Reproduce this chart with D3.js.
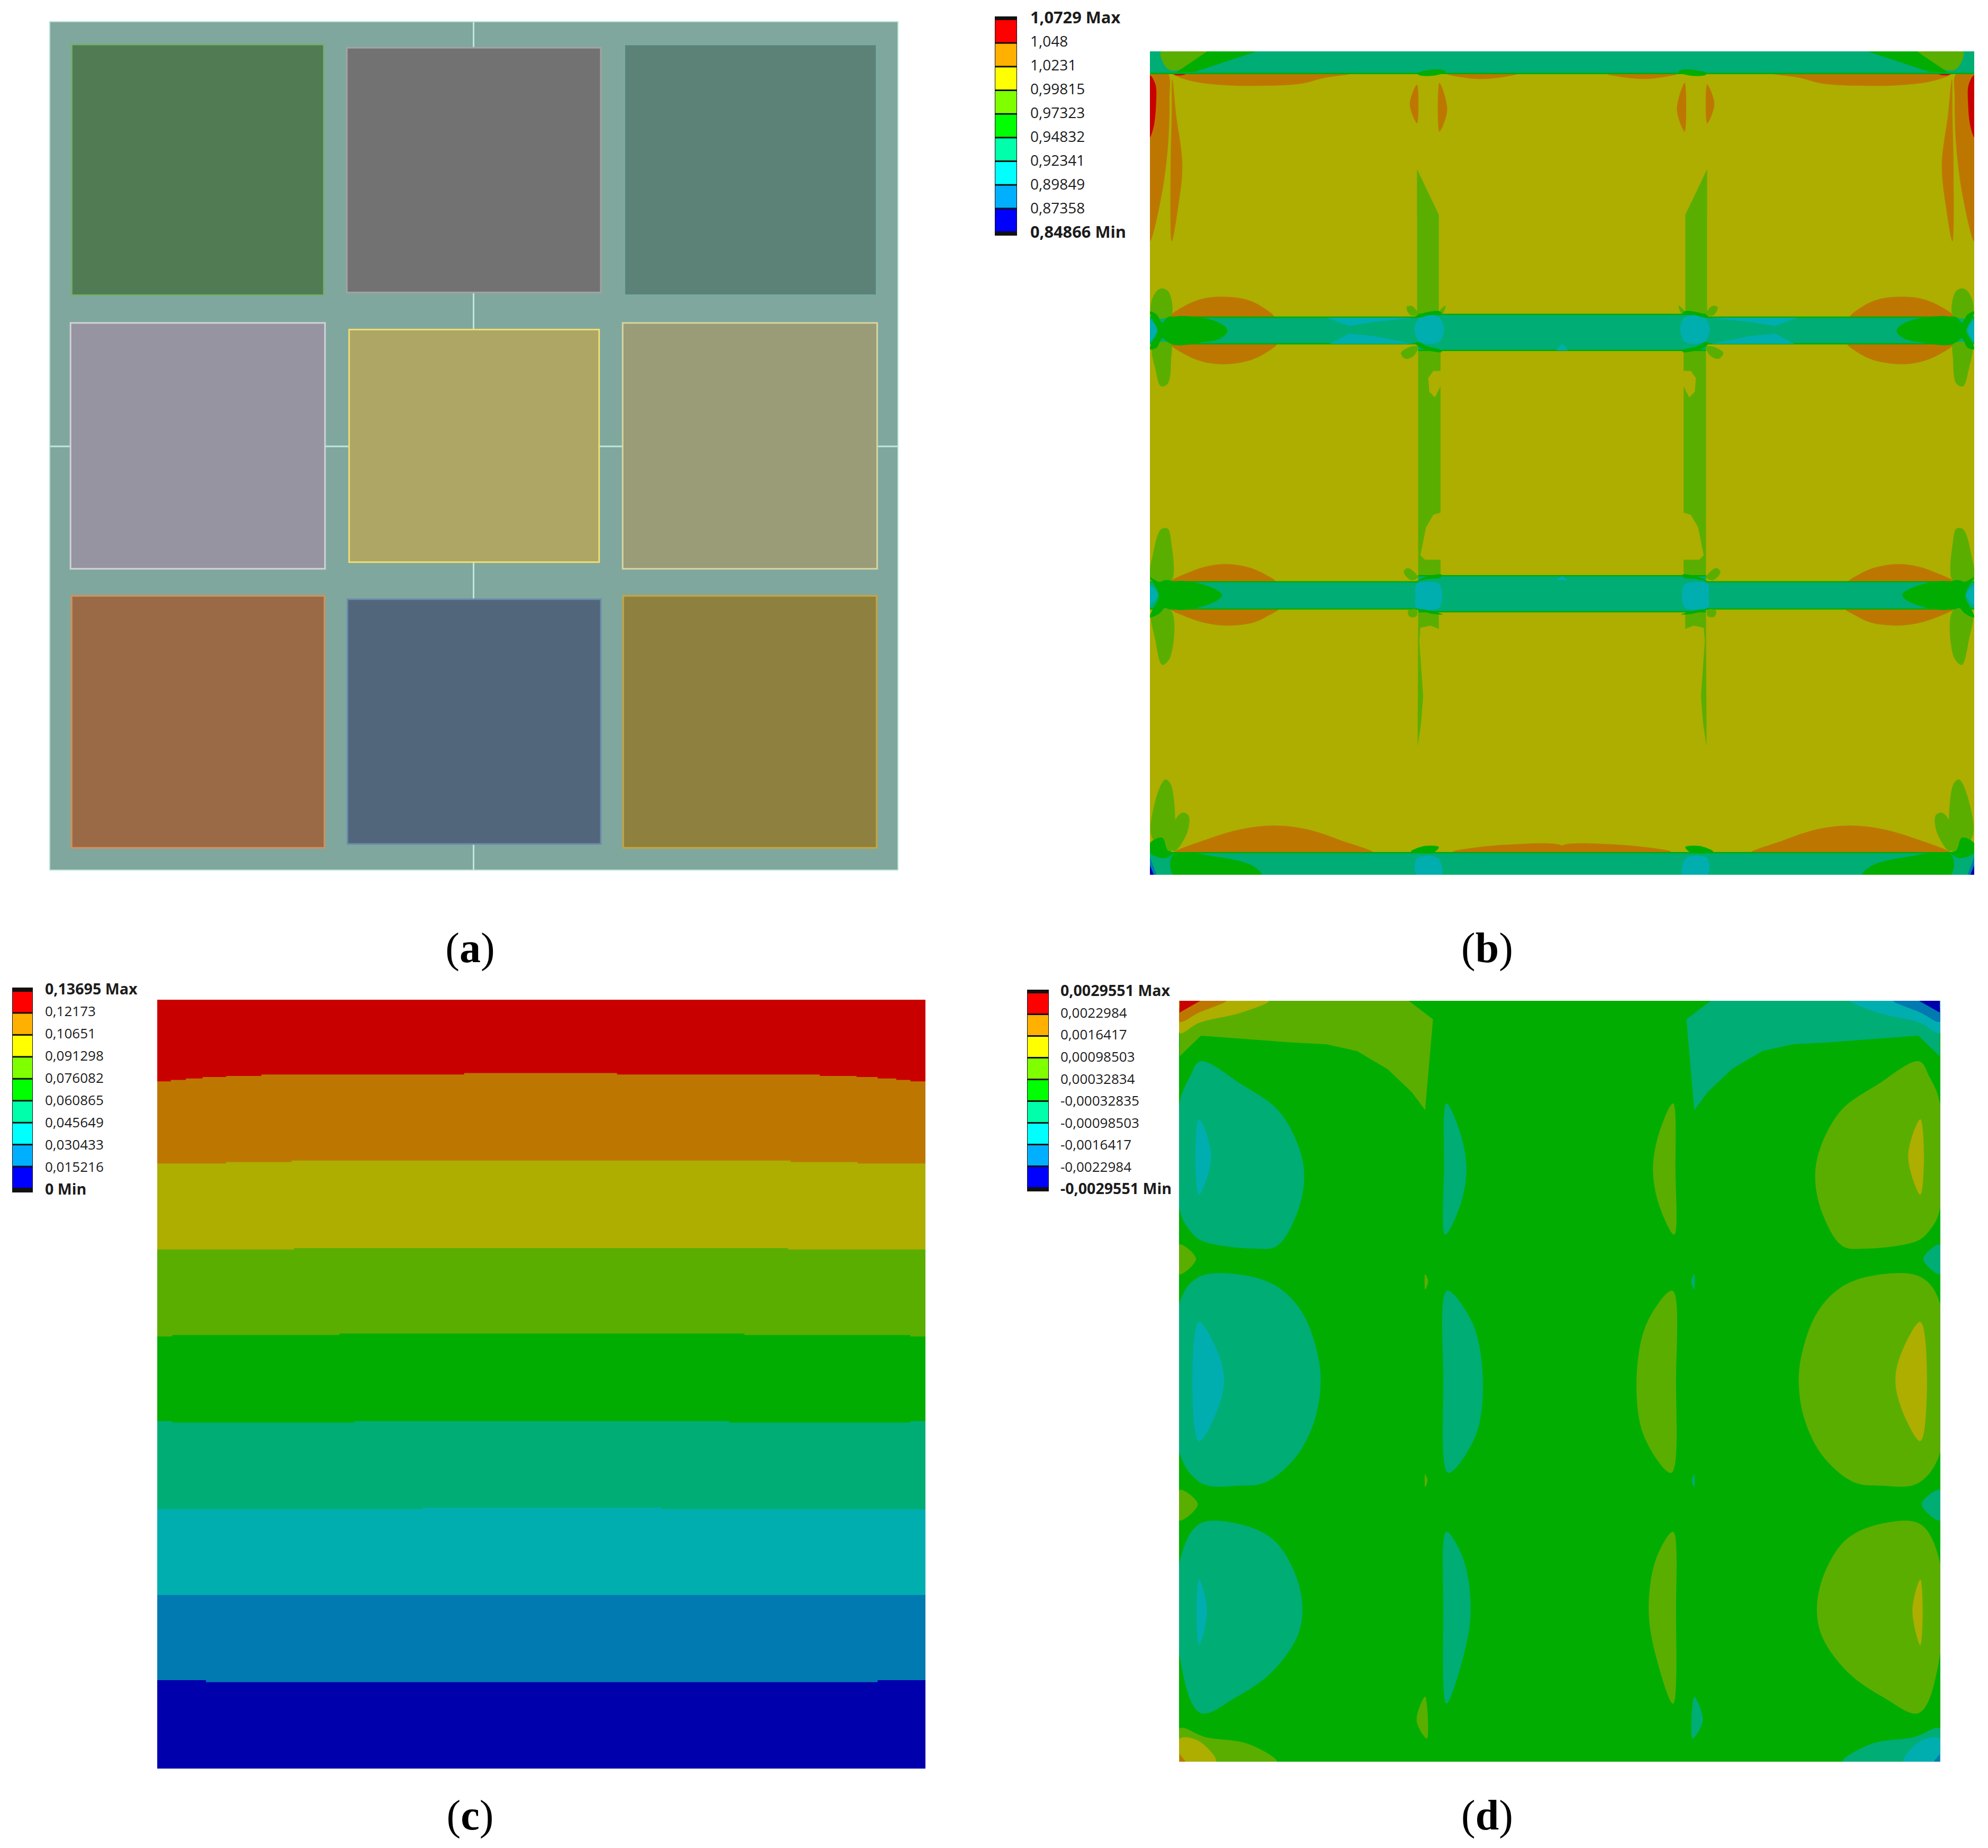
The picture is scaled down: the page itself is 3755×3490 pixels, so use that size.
<!DOCTYPE html>
<html><head><meta charset="utf-8">
<script src="https://d3js.org/d3.v7.min.js"></script>
<style>html,body{margin:0;background:#fff}svg{display:block}text{font-family:"Open Sans",sans-serif;fill:#1c1c1c}.cap,.cap tspan{font-family:"Liberation Serif",serif;fill:#000}</style>
</head><body><script>
// ---------- palette / legends ----------
const legendHues=["#ff0000","#ffb000","#ffff00","#80ff00","#00ff00","#00ffaa","#00ffff","#00b0ff","#0000ff"];
const labelsB=["1,0729 Max","1,048","1,0231","0,99815","0,97323","0,94832","0,92341","0,89849","0,87358","0,84866 Min"];
const labelsC=["0,13695 Max","0,12173","0,10651","0,091298","0,076082","0,060865","0,045649","0,030433","0,015216","0 Min"];
const labelsD=["0,0029551 Max","0,0022984","0,0016417","0,00098503","0,00032834","-0,00032835","-0,00098503","-0,0016417","-0,0022984","-0,0029551 Min"];
const shaded={red:"#c90000",orange:"#bd7700",olive:"#adae00",lime:"#5aae00",green:"#00ad00",teal:"#00ad75",cyan:"#00aeb0",azure:"#007ab0",blue:"#0000ad"};
const captions=["a","b","c","d"];

// ---------- panel (a): plate layout, read in plate units ----------
const plateColors=["#517c53","#727272","#5c8278","#9594a0","#aea664","#9a9b77","#9a6a47","#51667b","#8e803f"];
const plateEdges=["#76b070","#a3a3a3","#78aca2","#d2d2da","#efdc72","#d6d6a2","#d88f58","#6a8cac","#c9a63a"];
const plateX0=[71,562,1057,69,566,1054,71,563,1055];
const plateX1=[521,1015,1507,523,1012,1508,522,1015,1507];
const plateY0=[61,67,61,564,576,564,1057,1063,1057];
const plateY1=[514,509,514,1008,996,1008,1512,1505,1512];
const seamsV=[[20,67],[509,576],[996,1063],[1505,1552]];
const seamsH=[[32,69],[523,566],[1012,1054],[1508,1545]];

// ---------- panel (b): contour regions, left half, mirrored on draw ----------
const bLime=[
 [[546,248],[585,330],[585,512],[546,516]],
 [[548,575],[588,575],[588,612],[575,612],[566,625],[568,650],[578,660],[588,640],[588,868],[575,872],[562,895],[552,945],[560,953],[588,953],[588,984],[548,987]],
 [[548,1047],[585,1047],[585,1078],[570,1072],[552,1076],[550,1100],[557,1200],[553,1250],[547,1290]],
];
const bLimeLobes=[
 [[88,35],[172,35],[122,68],[102,68],[90,52]],
 [[73,515],[70,490],[80,468],[90,463],[102,470],[106,512]],
 [[73,565],[78,610],[88,640],[100,635],[106,590],[105,562]],
 [[70,992],[74,940],[88,898],[100,897],[106,920],[106,992]],
 [[72,1045],[78,1100],[90,1143],[104,1130],[106,1045]],
 [[72,1455],[76,1395],[95,1350],[106,1360],[106,1480]],
 [[106,1472],[110,1430],[125,1410],[137,1415],[135,1445],[112,1480]],
 [[527,497],[537,495],[548,510],[535,512]],
 [[585,506],[597,494],[592,508]],
 [[548,568],[530,570],[517,580],[525,590],[540,585]],
 [[522,975],[530,968],[548,985],[535,990]],
 [[530,1045],[545,1043],[545,1055],[533,1056]],
];
const bOrange=[
 [[68,70],[100,75],[103,120],[100,210],[88,300],[68,378]],
 [[108,85],[115,150],[126,240],[118,320],[107,378],[105,250],[107,150]],
 [[108,75],[140,88],[200,96],[280,97],[340,93],[380,83],[430,75]],
 [[105,514],[135,492],[165,481],[200,478],[240,483],[270,497],[290,515]],
 [[105,563],[130,582],[165,596],[205,600],[250,592],[278,578],[295,563]],
 [[105,993],[140,975],[170,965],[205,961],[245,967],[275,980],[293,993]],
 [[105,1042],[130,1055],[170,1068],[210,1072],[255,1066],[280,1054],[298,1042]],
 [[110,1484],[170,1458],[230,1440],[290,1433],[350,1440],[410,1460],[470,1484]],
 [[546,95],[533,130],[546,165]],
 [[586,92],[600,140],[586,180]],
 [[610,1480],[700,1468],[806,1470],[806,1480]],
 [[600,76],[660,85],[725,76]],
];
const bRed=[[[68,78],[78,95],[79,130],[75,170],[68,190]],[[110,73],[135,73],[130,77],[112,77]]];
const bBars=[[68,806,35,75],[68,548,515,563],[548,806,510,575],[68,548,993,1042],[548,806,982,1047],[68,806,1482,1522]];
const bCyan=[
 [[552,515],[585,515],[594,538],[585,560],[552,560],[541,538]],
 [[545,997],[585,997],[591,1017],[585,1040],[545,1040],[543,1017]],
 [[546,1492],[583,1492],[590,1522],[545,1522]],
 [[68,520],[80,538],[68,558]],
 [[68,1000],[82,1017],[68,1035]],
];
const bCyanWedges=[
 [[385,516],[424,531],[468,524],[540,516]],
 [[390,563],[424,545],[468,549],[540,563]],
 [[795,575],[806,562],[806,575]],
 [[795,990],[806,982],[806,990]],
];
const bGreen=[
 [[68,505],[80,510],[90,525],[100,515],[108,515],[108,563],[100,560],[90,553],[80,570],[68,573],[72,560],[82,540],[72,518]],
 [[105,518],[170,518],[200,530],[207,540],[195,553],[165,560],[105,562]],
 [[68,985],[85,993],[95,990],[108,993],[108,1042],[95,1040],[85,1050],[68,1057],[72,1045],[84,1018],[72,992]],
 [[108,995],[170,1000],[197,1017],[170,1035],[108,1040]],
 [[68,1465],[90,1455],[100,1478],[110,1482],[95,1492],[68,1482]],
 [[110,1485],[190,1490],[250,1505],[268,1522],[110,1522]],
 [[543,514],[560,507],[585,504],[590,508],[570,511],[548,516]],
 [[543,562],[555,572],[590,578],[588,574],[565,568],[548,560]],
 [[545,992],[565,983],[590,980],[588,985],[565,988]],
 [[543,1042],[570,1050],[592,1052],[570,1045]],
 [[546,75],[560,70],[590,68],[597,72],[575,79],[550,78]],
 [[535,1480],[560,1470],[585,1472],[575,1482],[540,1482]],
];
const bGreenTop=[[[115,73],[148,72],[208,52],[262,34],[172,34]]];
const bCorner=[[[68,1490],[80,1522],[68,1522]]];
const bCornerBlue=[[[68,1505],[75,1522],[68,1522]]];

// ---------- panel (c): stepped isolines ----------
const isoC=[
 [[18,-35],[1545,-35]],
 [[18,133],[45,130],[75,127],[108,124],[155,122],[225,119],[628,116],[932,119],[1335,122],[1408,124],[1450,127],[1487,130],[1515,133],[1545,133]],
 [[18,302],[155,299],[285,296],[1277,299],[1410,302],[1545,302]],
 [[18,479],[290,476],[1272,479],[1545,479]],
 [[18,658],[48,655],[380,652],[1185,655],[1515,658],[1545,658]],
 [[18,832],[48,835],[410,832],[1155,835],[1515,832],[1545,832]],
 [[18,1013],[545,1010],[1020,1013],[1545,1013]],
 [[18,1190],[1545,1190]],
 [[18,1365],[115,1369],[1450,1365],[1545,1365]],
];
const bandsC=["red","orange","olive","lime","green","teal","cyan","azure","blue"];

// ---------- panel (d): regions, left half; mirrored with the opposite-sign colour ----------
const dLobes=[
 [[302,180],[370,225],[430,275],[465,350],[473,410],[460,480],[428,540],[390,545],[305,530],[285,510],[268,470],[268,260],[285,210]],
 [[268,650],[300,600],[375,597],[430,620],[470,670],[495,750],[500,810],[490,880],[460,950],[410,1000],[365,1007],[305,1003],[268,945]],
 [[268,1155],[300,1082],[360,1080],[420,1110],[455,1170],[470,1240],[462,1300],[420,1370],[360,1420],[302,1450],[268,1340]],
 [[707,262],[730,320],[740,390],[730,460],[705,518],[703,390]],
 [[708,627],[750,690],[767,800],[755,910],[710,982],[702,800]],
 [[707,1097],[735,1150],[747,1250],[735,1340],[707,1432],[702,1250]],
];
const dCores=[
 [[300,293],[320,365],[300,440],[294,365]],
 [[300,688],[330,745],[341,800],[330,860],[300,920],[289,800]],
 [[300,1190],[313,1250],[300,1318],[296,1250]],
];
const dTop=[[[268,62],[645,62],[685,98],[672,275],[650,240],[610,195],[560,160],[510,147],[450,143],[303,130],[268,170]]];
const dTopMid=[[[268,62],[415,62],[370,85],[300,105],[268,125]]];
const dTopHigh=[[[268,75],[300,62],[345,62],[300,85],[268,103]]];
const dTopPeak=[[[268,62],[302,62],[268,85]]];
const dBot=[[[268,1480],[310,1497],[380,1510],[428,1545],[268,1545]]];
const dBotMid=[[[268,1500],[300,1505],[328,1545],[268,1545]]];
const dBotHigh=[[[268,1530],[278,1545],[268,1545]]];
const dEdges=[
 [[268,537],[295,565],[268,595]],
 [[268,1015],[298,1043],[268,1075]],
 [[672,595],[677,608],[672,625]],
 [[672,985],[676,997],[672,1010]],
 [[672,1418],[658,1465],[675,1500]],
];

// ---------- page ----------
const svg=d3.select("body").append("svg").attr("width",3755).attr("height",3490);
svg.append("rect").attr("width",3755).attr("height",3490).attr("fill","#fff");
const smooth=d3.curveCatmullRomClosed.alpha(.5);

function panelScales(dx,rx,dy,ry){
  return {x:d3.scaleLinear().domain(dx).range(rx),
          m:d3.scaleLinear().domain(dx).range([rx[1],rx[0]]),
          y:d3.scaleLinear().domain(dy).range(ry)};
}
function paint(g,list,sx,sy,color,curve){
  const line=d3.line().x(d=>sx(d[0])).y(d=>sy(d[1])).curve(curve||smooth);
  g.append("g").selectAll("path").data(list).join("path").attr("d",line).attr("fill",color);
}
function clipped(id,s){
  const [x0,x1]=s.x.range(),[y0,y1]=s.y.range();
  svg.append("clipPath").attr("id",id).append("rect").attr("x",x0).attr("y",y0).attr("width",x1-x0).attr("height",y1-y0);
  const g=svg.append("g").attr("clip-path",`url(#${id})`);
  g.append("rect").attr("x",x0).attr("y",y0).attr("width",x1-x0).attr("height",y1-y0).attr("fill","#fff");
  return g;
}
function legend(labels,barX,barW,barTop,barBot,capH,textX,textTop,textBot,size){
  const g=svg.append("g");
  const band=d3.scaleBand().domain(legendHues).range([barTop+capH,barBot-capH]);
  g.append("rect").attr("x",barX-1).attr("y",barTop).attr("width",barW+2).attr("height",barBot-barTop).attr("fill","#111");
  g.selectAll(".sw").data(legendHues).join("rect").attr("x",barX).attr("width",barW)
    .attr("y",d=>band(d)+1).attr("height",band.bandwidth()-3).attr("fill",d=>d);
  const ty=d3.scalePoint().domain(labels).range([textTop,textBot]);
  const ends=(i)=>i===0||i===labels.length-1;
  g.selectAll("text").data(labels).join("text")
    .attr("x",textX).attr("y",d=>ty(d)).attr("dy",".36em")
    .attr("font-size",(d,i)=>ends(i)?size*1.1:size).attr("font-weight",(d,i)=>ends(i)?700:400).text(d=>d);
}

// panel a
(function(){
  const s=panelScales([32,1545],[94,1696],[20,1552],[41,1643]);
  svg.append("rect").attr("x",94).attr("y",41).attr("width",1602).attr("height",1602).attr("fill","#80a79d").attr("stroke","#b4e0d4").attr("stroke-width",2);
  const g=svg.append("g").attr("stroke","#bde8dc").attr("stroke-width",3);
  g.selectAll(".v").data(seamsV).join("line").attr("class","v").attr("x1",s.x(788)).attr("x2",s.x(788)).attr("y1",d=>s.y(d[0])).attr("y2",d=>s.y(d[1]));
  g.selectAll(".h").data(seamsH).join("line").attr("class","h").attr("y1",s.y(787)).attr("y2",s.y(787)).attr("x1",d=>s.x(d[0])).attr("x2",d=>s.x(d[1]));
  svg.append("g").selectAll("rect").data(plateColors).join("rect")
    .attr("x",(d,i)=>s.x(plateX0[i])).attr("y",(d,i)=>s.y(plateY0[i]))
    .attr("width",(d,i)=>s.x(plateX1[i])-s.x(plateX0[i])).attr("height",(d,i)=>s.y(plateY1[i])-s.y(plateY0[i]))
    .attr("fill",d=>d).attr("stroke",(d,i)=>plateEdges[i]).attr("stroke-width",3);
})();

// panel b
(function(){
  const s=panelScales([68,1543],[2172,3729],[35,1522],[97,1652]);
  const g=clipped("cb",s);
  g.append("rect").attr("x",2172).attr("y",97).attr("width",1557).attr("height",1555).attr("fill",shaded.olive);
  [s.x,s.m].forEach(sx=>{
    paint(g,bLime,sx,s.y,shaded.lime,d3.curveLinearClosed);
    paint(g,bOrange,sx,s.y,shaded.orange);
    paint(g,bRed,sx,s.y,shaded.red);
    const bars=g.append("g");
    bars.selectAll("rect").data(bBars).join("rect")
      .attr("x",d=>Math.min(sx(d[0]),sx(d[1]))).attr("width",d=>Math.abs(sx(d[1])-sx(d[0])))
      .attr("y",d=>s.y(d[2])).attr("height",d=>s.y(d[3])-s.y(d[2])).attr("fill",shaded.teal);
    const edges=bBars.flatMap(d=>[[d[0],d[1],d[2]],[d[0],d[1],d[3]]]).filter(e=>e[2]>35&&e[2]<1522);
    bars.selectAll("line").data(edges).join("line")
      .attr("x1",d=>sx(d[0])).attr("x2",d=>sx(d[1])).attr("y1",d=>s.y(d[2])).attr("y2",d=>s.y(d[2]))
      .attr("stroke",shaded.green).attr("stroke-width",2.5);
    paint(g,bLimeLobes,sx,s.y,shaded.lime);
    paint(g,bCyan,sx,s.y,shaded.cyan);
    paint(g,bCyanWedges,sx,s.y,shaded.cyan,d3.curveLinearClosed);
    paint(g,bGreen,sx,s.y,shaded.green);
    paint(g,bGreenTop,sx,s.y,shaded.green,d3.curveLinearClosed);
    paint(g,bCorner,sx,s.y,shaded.azure,d3.curveLinearClosed);
    paint(g,bCornerBlue,sx,s.y,shaded.blue,d3.curveLinearClosed);
  });
  legend(labelsB,1880,40,31,445,6,1946,33,438,28);
})();

// panel c
(function(){
  const s=panelScales([18,1545],[297,1748],[-35,1547],[1888,3340]);
  const g=clipped("cc",s);
  const area=d3.area().x(d=>s.x(d[0])).y0(s.y(1547)).y1(d=>s.y(d[1])).curve(d3.curveStepAfter);
  g.selectAll("path").data(isoC).join("path").attr("d",area).attr("fill",(d,i)=>shaded[bandsC[i]]);
  legend(labelsC,24,37,1865,2252,7,85,1868,2246,26);
})();

// panel d
(function(){
  const s=panelScales([267,1520],[2227,3665],[62,1545],[1890,3327]);
  const g=clipped("cd",s);
  g.append("rect").attr("x",2227).attr("y",1890).attr("width",1438).attr("height",1437).attr("fill",shaded.green);
  const pairs=[
    [dTop,"lime","teal",d3.curveLinearClosed],[dTopMid,"olive","cyan"],[dTopHigh,"orange","azure"],[dTopPeak,"red","blue",d3.curveLinearClosed],
    [dBot,"lime","teal"],[dBotMid,"olive","cyan"],[dBotHigh,"orange","azure",d3.curveLinearClosed],
    [dEdges,"lime","teal"],[dLobes,"teal","lime"],[dCores,"cyan","olive"],
  ];
  pairs.forEach(([list,a,b,c])=>{
    paint(g,list,s.x,s.y,shaded[a],c);
    paint(g,list,s.m,s.y,shaded[b],c);
  });
  legend(labelsD,1941,39,1869,2250,6,2003,1871,2245,26);
})();

// captions
const capX=d3.scalePoint().domain([0,1]).range([888,2809]);
const capY=d3.scalePoint().domain([0,1]).range([1817,3455]);
captions.forEach((c,k)=>{
  const t=svg.append("text").attr("class","cap").attr("x",capX(k%2)).attr("y",capY(k>>1))
    .attr("text-anchor","middle").attr("font-size",80);
  t.append("tspan").text("(");
  t.append("tspan").attr("font-weight",700).text(c);
  t.append("tspan").text(")");
});
</script></body></html>
